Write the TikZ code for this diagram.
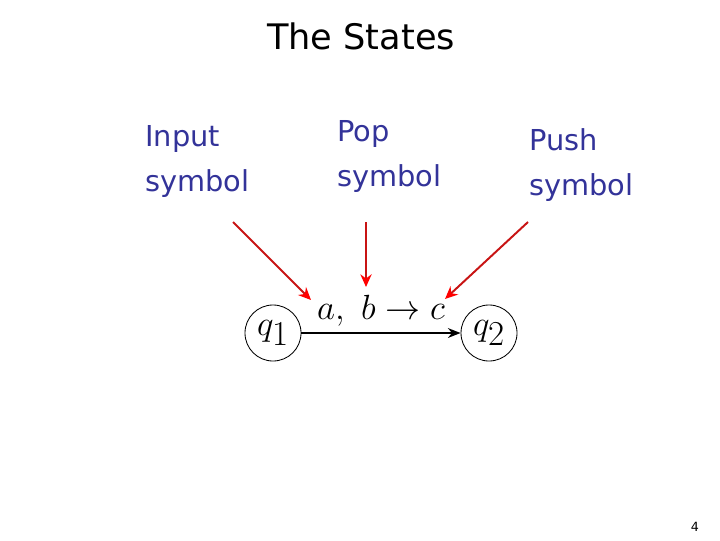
\documentclass[tikz,border=0pt]{standalone}
\usepackage{fontspec}
\setsansfont{DejaVu Sans}
\usetikzlibrary{arrows.meta}
\definecolor{lblblue}{RGB}{51,51,153}
\definecolor{ptrred}{RGB}{200,20,20}

\begin{document}
\begin{tikzpicture}[
    x=0.025cm, y=-0.025cm,
    title/.style={font=\sffamily\fontsize{25}{28}\selectfont, inner sep=0pt},
    lbl/.style={text=lblblue, font=\sffamily\fontsize{20.5}{32}\selectfont, align=left, inner sep=0pt, anchor=north west},
    state/.style={draw, circle, line width=0.6pt, minimum size=1.4cm, inner sep=0pt, font=\fontsize{28}{30}\selectfont},
    trans/.style={-{Stealth[length=9pt,width=7pt]}, line width=1.3pt},
    ptr/.style={-{Stealth[length=9pt,width=8pt,color=red]}, ptrred, line width=1.4pt}]

  \useasboundingbox (0,0) rectangle (720,540);

  % ---- heading and captions ---------------------------------------------
  \node[title, anchor=north] (head) at (361, 23) {The States};
  \node[lbl] (inp)  at (145, 125) {Input\\symbol};
  \node[lbl] (pop)  at (337, 120) {Pop\\symbol};
  \node[lbl] (push) at (529, 128) {Push\\symbol};

  % ---- the transition ---------------------------------------------------
  \node[state] (q1) at (273, 333) {$q_{\textstyle 1}$};
  \node[state] (q2) at (489, 333) {$q_{\textstyle 2}$};
  \draw[trans] (q1) -- (q2)
    node[midway, above=1pt, font=\fontsize{25}{28}\selectfont] (lab) {$a,\ b \rightarrow c$};

  % ---- pointers to the parts of the label -------------------------------
  \coordinate (inpfrom)  at (233, 222);
  \coordinate (popfrom)  at (366, 222);
  \coordinate (pushfrom) at (528, 222);
  \coordinate (inpto)    at (311, 300);
  \coordinate (popto)    at (366, 287);
  \coordinate (pushto)   at (445, 299);
  \draw[ptr] (inpfrom) -- (inpto);
  \draw[ptr] (popfrom) -- (popto);
  \draw[ptr] (pushfrom) -- (pushto);

  \node[font=\sffamily\fontsize{9}{10}\selectfont] (page) at (695, 527) {4};
\end{tikzpicture}
\end{document}
